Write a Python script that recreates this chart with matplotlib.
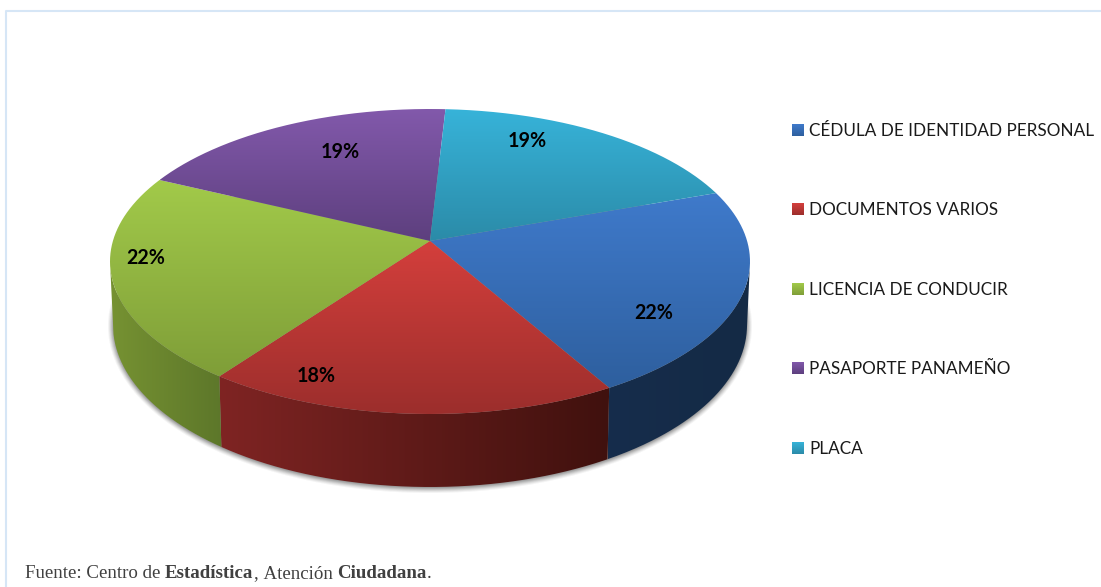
import numpy as np
import matplotlib
matplotlib.use("Agg")
import matplotlib.pyplot as plt
from matplotlib.path import Path
from matplotlib.patches import PathPatch, Ellipse
from matplotlib.colors import to_rgb

categories = ["CÉDULA DE IDENTIDAD PERSONAL", "DOCUMENTOS VARIOS", "LICENCIA DE CONDUCIR",
              "PASAPORTE PANAMEÑO", "PLACA"]
values = [22.1, 18.4, 22.0, 18.8, 18.7]

top_light = ["#3f7acb", "#d43f3c", "#a2ca4a", "#8259ab", "#37b3d9"]
top_dark = ["#2e5f9e", "#9c2e2c", "#7f9e38", "#5d3f7e", "#2b8ba8"]
side_left = ["#162d4c", "#7f2423", "#769232", "#5d3f7e", "#2b8ba8"]
side_right = ["#142a45", "#40110e", "#5d772a", "#5d3f7e", "#2b8ba8"]
label_xy = [(654, 319), (316, 382), (146, 264), (340, 158), (527, 147)]
legend_y = [130, 209, 289, 368, 448]

W, H = 1101, 587
fig = plt.figure(figsize=(W / 100, H / 100), dpi=100)
ax = fig.add_axes([0, 0, 1, 1])
ax.set_axis_off()

CX, CY, RX, RY = 430, 261.5, 320, 152.5
BCY, BRX, BRY = 325, 317, 162
A = 0.135          # perspective shift of the pie centre
START = 19.5


def rim(theta_deg):
    t = np.radians(theta_deg)
    d = 1 + A * np.sin(t)
    return np.sqrt(1 - A * A) * np.cos(t) / d, (np.sin(t) + A) / d


def gradient(path, c0, c1, vertical=True, zorder=2):
    xmin, ymin, xmax, ymax = path.get_extents().extents
    c0, c1 = np.array(to_rgb(c0)), np.array(to_rgb(c1))
    f = np.linspace(0, 1, 256)[:, None]
    col = c0 * (1 - f) + c1 * f
    img = col[:, None, :] if vertical else col[None, :, :]
    im = ax.imshow(img, extent=(xmin, xmax, ymax, ymin), aspect="auto",
                   interpolation="bilinear", origin="upper", zorder=zorder)
    im.set_clip_path(PathPatch(path, transform=ax.transData))


# soft shadow
for grow, alpha in [(5, .05), (4, .07), (3, .09), (2, .11), (1, .13), (0, .15)]:
    ax.add_patch(Ellipse((CX, BCY + 1), 2 * (BRX + grow), 2 * (BRY + grow), fc="#303030",
                         ec="none", alpha=alpha, zorder=1))

# frame
ax.plot([6, 6, W], [H, 11, 11], color="#d6e6f6", lw=1.5, zorder=0)

edges = START - np.concatenate([[0], np.cumsum(values)]) / sum(values) * 360
for i in range(len(values)):
    th = np.linspace(edges[i], edges[i + 1], 300)
    x, y = rim(th)
    tx, ty = CX + RX * x, CY - RY * y
    # side wall (front part only)
    m = y <= 0
    if m.sum() > 2:
        bx, by = CX + BRX * x[m], BCY - BRY * y[m]
        pts = np.r_[np.c_[tx[m], ty[m]], np.c_[bx, by][::-1]]
        gradient(Path(np.r_[pts, pts[:1]]), side_left[i], side_right[i], vertical=False, zorder=2)
    # top face
    pts = np.r_[[[CX, CY - RY * A]], np.c_[tx, ty], [[CX, CY - RY * A]]]
    gradient(Path(pts), top_light[i], top_dark[i], zorder=3)
    # value label
    ax.text(*label_xy[i], f"{values[i]:.0f}%", family="Lato", weight="bold", fontsize=14.2,
            ha="center", va="baseline", color="black", zorder=5)
    # legend
    ly = legend_y[i]
    gradient(Path([(792, ly - 6), (804, ly - 6), (804, ly + 6), (792, ly + 6), (792, ly - 6)]),
             top_light[i], top_dark[i], zorder=3)
    ax.text(809, ly + 6, categories[i], family="Lato", fontsize=12.3, ha="left", va="baseline",
            color="#1a1a1a", zorder=5)

ax.set_xlim(0, W)
ax.set_ylim(H, 0)

# footer, mixed weights
fig.canvas.draw()
rend = fig.canvas.get_renderer()
x = 25
for s, w in [("Fuente: Centro de ", "normal"), ("Estadística", "bold"), (", Atención ", "normal"),
             ("Ciudadana", "bold"), (".", "normal")]:
    t = ax.text(x, 578, s.replace(" ", "\u00a0"), family="Liberation Serif", weight=w, fontsize=13.55,
                ha="left", va="baseline", color="#404040", zorder=5)
    x = t.get_window_extent(rend).x1

fig.savefig("out.png", dpi=100)
